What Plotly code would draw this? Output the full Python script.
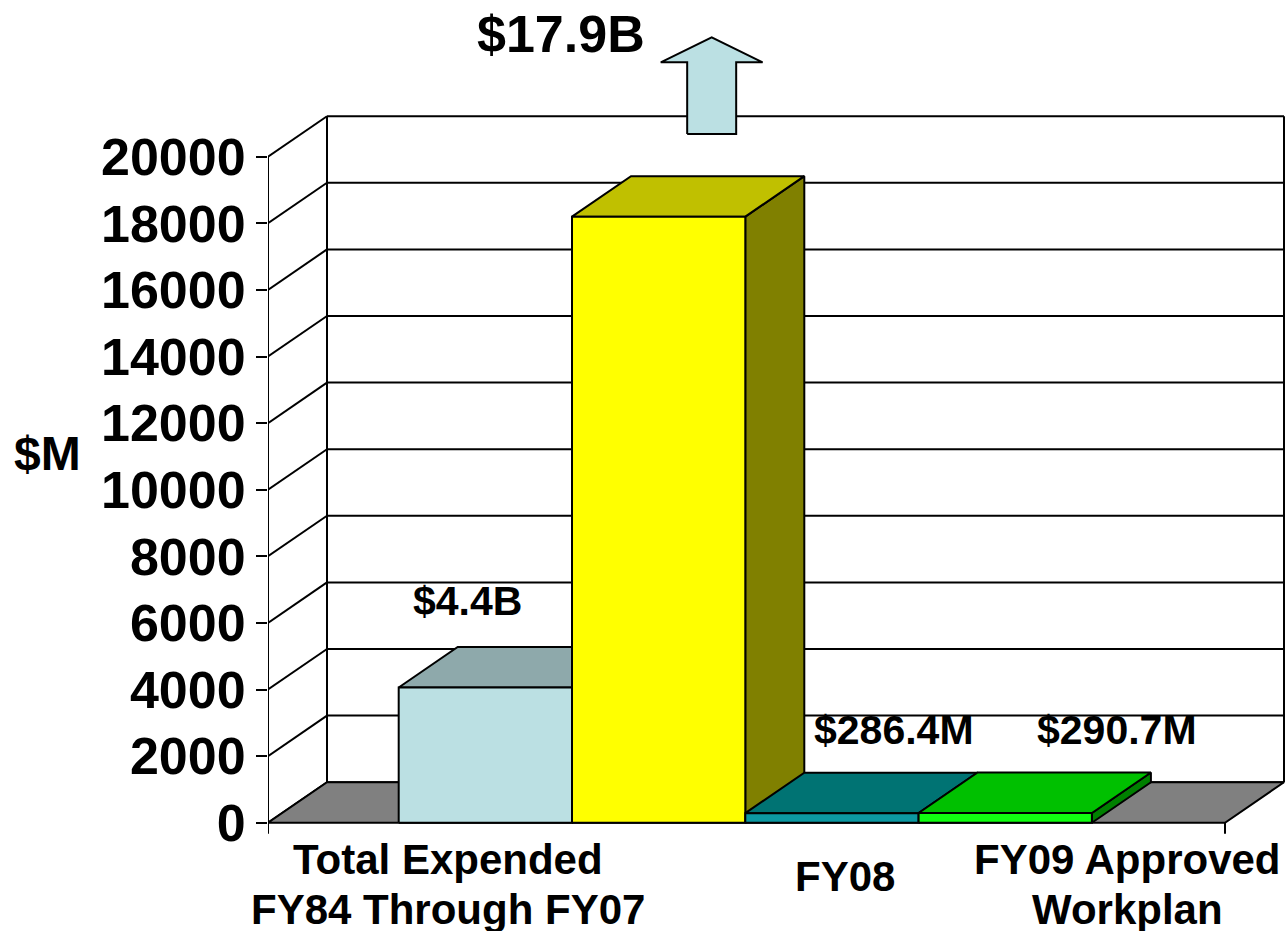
import plotly.graph_objects as go

# ---------------- data ----------------
series = ["Total Expended FY84 Through FY07", "Total Estimated Cost", "FY08", "FY09 Approved Workplan"]
values = [4060, 18200, 286.4, 290.7]
value_labels = ["$4.4B", "$17.9B", "$286.4M", "$290.7M"]
category_lines = [["Total Expended", "FY84 Through FY07"], ["FY08"], ["FY09 Approved", "Workplan"]]
y_ticks = [0, 2000, 4000, 6000, 8000, 10000, 12000, 14000, 16000, 18000, 20000]
y_title = "$M"

front_colors = ["#BBE0E3", "#FFFF00", "#0C98A2", "#11FF11"]
top_colors = ["#8EA9AB", "#C0C000", "#007373", "#00C000"]
side_colors = ["#5E7072", "#808000", "#004C50", "#008000"]

# ---------------- geometry / layout constants ----------------
W, H = 1287, 931
ML, MT, MB = 268, 0, 71
PLOT_W = W - ML
PLOT_H = H - MT - MB
PX_PER_X = 173.3           # pixels per bar width
PX_PER_Y = 0.0333          # pixels per $M
ZERO_PX = 822.7            # pixel row of value 0
X_RANGE = [0, PLOT_W / PX_PER_X]
Y_RANGE = [-(MT + PLOT_H - ZERO_PX) / PX_PER_Y, (ZERO_PX - MT) / PX_PER_Y]

DX = 59 / PX_PER_X         # depth offset (x)
DY = 40.5 / PX_PER_Y       # depth offset (y)
BAR_START = (398.7 - ML) / PX_PER_X
BAR_W = 1.0
FLOOR_X = (1225 - ML) / PX_PER_X
TICK_DOWN = 11 / PX_PER_Y
YMAX = y_ticks[-1]

LINE = dict(color="black", width=2)
FONT = "Liberation Sans, Arial, sans-serif"


def xp(px):
    return (px - ML) / PLOT_W


def yp(py):
    return (MT + PLOT_H - py) / PLOT_H


fig = go.Figure()


def lines(xs, ys):
    fig.add_trace(go.Scatter(x=xs, y=ys, mode="lines", line=LINE,
                             hoverinfo="skip", showlegend=False))


def poly(xs, ys, color):
    fig.add_trace(go.Scatter(x=xs + [xs[0]], y=ys + [ys[0]], mode="lines",
                             fill="toself", fillcolor=color, line=LINE,
                             hoverinfo="skip", showlegend=False))


# back wall: horizontal gridlines, left and right edges
gx, gy = [], []
for v in y_ticks:
    gx += [DX, FLOOR_X + DX, None]
    gy += [v + DY, v + DY, None]
gx += [DX, DX, None, FLOOR_X + DX, FLOOR_X + DX]
gy += [DY, YMAX + DY, None, DY, YMAX + DY]
lines(gx, gy)

# left wall diagonals
lx, ly = [], []
for v in y_ticks:
    lx += [0, DX, None]
    ly += [v, v + DY, None]
lines(lx, ly)

# floor
poly([0, FLOOR_X, FLOOR_X + DX, DX], [0, 0, DY, DY], "#808080")

# front value axis and category axis end ticks
lines([0, 0, None, FLOOR_X, FLOOR_X], [-TICK_DOWN, YMAX, None, 0, -TICK_DOWN])

# bars (side, top, front) drawn left to right
for i, v in enumerate(values):
    x0 = BAR_START + i * BAR_W
    x1 = x0 + BAR_W
    poly([x1, x1 + DX, x1 + DX, x1], [0, DY, v + DY, v], side_colors[i])
    poly([x0, x1, x1 + DX, x0 + DX], [v, v, v + DY, v + DY], top_colors[i])
    poly([x0, x1, x1, x0], [0, 0, v, v], front_colors[i])

# off-scale arrow above the tall bar
big = values.index(max(values))
acx = BAR_START + big * BAR_W + BAR_W / 2 + 0.306
sh, hh = 0.1414, 0.294
a_base, a_head, a_tip = 20682, 22835, 23586
poly([acx - sh, acx + sh, acx + sh, acx + hh, acx, acx - hh, acx - sh],
     [a_base, a_base, a_head, a_head, a_tip, a_head, a_head], front_colors[0])

annotations = []


def text(s, x, y, size):
    annotations.append(dict(text=s, x=xp(x), y=yp(y), xref="paper", yref="paper",
                            xanchor="center", yanchor="middle", showarrow=False,
                            font=dict(family=FONT, size=size, color="black", weight="bold")))


# value labels
label_pos = [(467, 601, 41), (561, 34, 52), (894, 730, 41), (1117, 730, 41)]
for s, (x, y, sz) in zip(value_labels, label_pos):
    text(s, x, y, sz)

# category labels
cat_pos = [(447.5, [859, 909]), (845, [876]), (1127, [859, 909])]
for linesx, (x, ys) in zip(category_lines, cat_pos):
    for s, y in zip(linesx, ys):
        text(s, x, y, 42)

# axis title
text(y_title, 47, 453, 48)

fig.update_layout(
    width=W, height=H,
    margin=dict(l=ML, r=0, t=MT, b=MB, autoexpand=False),
    paper_bgcolor="white", plot_bgcolor="white",
    showlegend=False,
    annotations=annotations,
    xaxis=dict(range=X_RANGE, visible=False, fixedrange=True),
    yaxis=dict(range=Y_RANGE, tickvals=y_ticks, ticktext=[str(t) for t in y_ticks],
               ticks="outside", ticklen=11, tickwidth=2, tickcolor="black",
               showgrid=False, zeroline=False, showline=False, automargin=False,
               tickfont=dict(family=FONT, size=52, color="black", weight="bold"),
               fixedrange=True),
)

fig.write_html("out.html")
